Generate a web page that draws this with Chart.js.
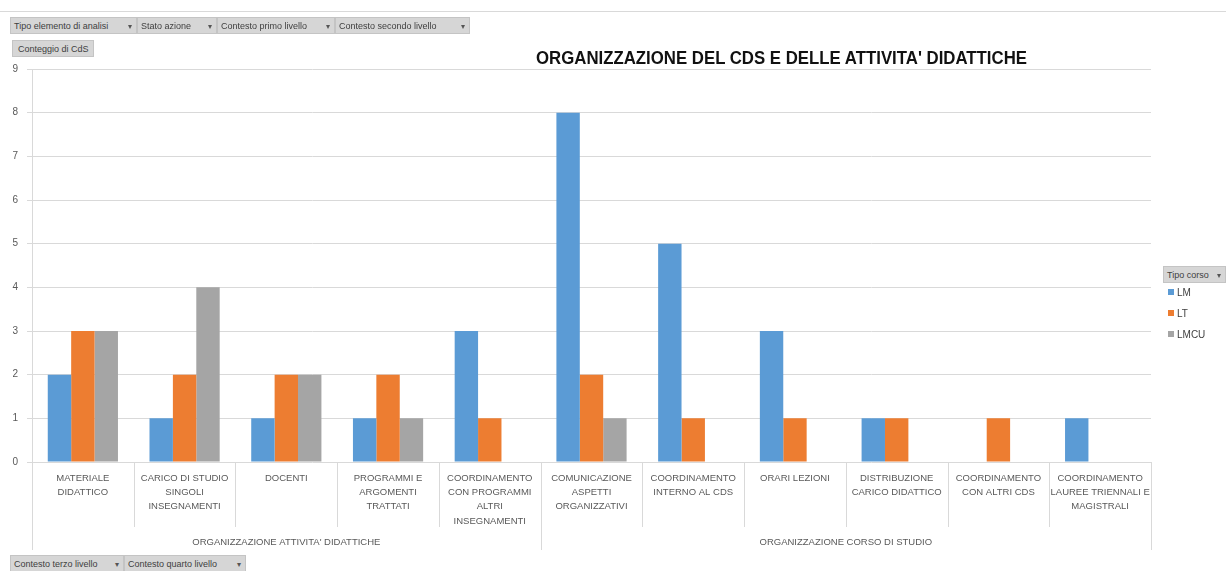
<!DOCTYPE html>
<html>
<head>
<meta charset="utf-8">
<script src="https://cdn.jsdelivr.net/npm/chart.js@4"></script>
<style>
  html, body { margin: 0; padding: 0; background: #fff; }
  body { width: 1226px; height: 571px; position: relative; overflow: hidden; font-family: "Liberation Sans", Arial, sans-serif; }
  #wrap { position: absolute; left: 0; top: 0; width: 1226px; height: 571px; }
  .topline { position: absolute; left: 0; top: 11px; width: 1226px; height: 1px; background: #d9d9d9; }
  .btn { position: absolute; height: 17px; line-height: 17px; background: #d6d6d6; border: 1px solid #c4c4c4; box-sizing: border-box;
         font-size: 9px; color: #404040; padding-left: 3px; white-space: nowrap; }
  .btn .ic { position: absolute; right: 4px; top: 0; font-size: 8px; color: #555; }
  #title { position: absolute; top: 48px; left: 536px; font-weight: bold; font-size: 18px; color: #111; white-space: nowrap; transform-origin: 0 0; }
  .leg { position: absolute; left: 1168px; font-size: 10px; color: #404040; height: 12px; line-height: 12px; }
  .leg i { display: inline-block; width: 6px; height: 6px; margin-right: 3px; vertical-align: 1px; }
</style>
</head>
<body>
<div id="wrap"><canvas id="chart" width="1226" height="571"></canvas></div>
<div class="topline"></div>

<div class="btn" style="left:10px;top:17px;width:127px">Tipo elemento di analisi<span class="ic">▾</span></div>
<div class="btn" style="left:137px;top:17px;width:80px">Stato azione<span class="ic">▾</span></div>
<div class="btn" style="left:217px;top:17px;width:118px">Contesto primo livello<span class="ic">▾</span></div>
<div class="btn" style="left:335px;top:17px;width:135px">Contesto secondo livello<span class="ic">▾</span></div>
<div class="btn" style="left:12px;top:40px;width:82px;padding-left:5px">Conteggio di CdS</div>
<div class="btn" style="left:10px;top:555px;width:114px">Contesto terzo livello<span class="ic">▾</span></div>
<div class="btn" style="left:124px;top:555px;width:122px">Contesto quarto livello<span class="ic">▾</span></div>

<div id="title">ORGANIZZAZIONE DEL CDS E DELLE ATTIVITA' DIDATTICHE</div>

<div class="btn" style="left:1163px;top:266px;width:63px">Tipo corso<span class="ic">▾</span></div>
<div id="legend"></div>

<script>
// etichette categorie (righe a capo come nel grafico originale)
var categoryLines = [
  ["MATERIALE", "DIDATTICO"],
  ["CARICO DI STUDIO", "SINGOLI", "INSEGNAMENTI"],
  ["DOCENTI"],
  ["PROGRAMMI E", "ARGOMENTI", "TRATTATI"],
  ["COORDINAMENTO", "CON PROGRAMMI", "ALTRI", "INSEGNAMENTI"],
  ["COMUNICAZIONE", "ASPETTI", "ORGANIZZATIVI"],
  ["COORDINAMENTO", "INTERNO AL CDS"],
  ["ORARI LEZIONI"],
  ["DISTRIBUZIONE", "CARICO DIDATTICO"],
  ["COORDINAMENTO", "CON ALTRI CDS"],
  ["COORDINAMENTO", "LAUREE TRIENNALI E", "MAGISTRALI"]
];

var groupNames = ["ORGANIZZAZIONE ATTIVITA' DIDATTICHE", "ORGANIZZAZIONE CORSO DI STUDIO"];
var groupSizes = [5, 6];

var seriesNames = ["LM", "LT", "LMCU"];
var seriesColors = ["#5b9bd5", "#ed7d31", "#a5a5a5"];

var lmValues   = [2, 1, 1, 1, 3, 8, 5, 3, 1, null, 1];
var ltValues   = [3, 2, 2, 2, 1, 2, 1, 1, 1, 1, null];
var lmcuValues = [3, 4, 2, 1, null, 1, null, null, null, null, null];

var yTicks = [0, 1, 2, 3, 4, 5, 6, 7, 8, 9];

// titolo: adatta la larghezza a quella del riferimento
var t = document.getElementById('title');
var tw = t.getBoundingClientRect().width;
t.style.transform = 'scaleX(' + (491 / tw) + ')';

// legenda
var legend = document.getElementById('legend');
var legTops = [287, 308, 329];
for (var i = 0; i < seriesNames.length; i++) {
  var d = document.createElement('div');
  d.className = 'leg';
  d.style.top = legTops[i] + 'px';
  d.innerHTML = '<i style="background:' + seriesColors[i] + '"></i>' + seriesNames[i];
  legend.appendChild(d);
}

// separatori e etichette dei gruppi sotto l'asse x
var groupAxis = {
  id: 'groupAxis',
  afterDraw: function (chart) {
    var c = chart.ctx;
    var xs = chart.scales.x;
    var area = chart.chartArea;
    var n = categoryLines.length;
    var bounds = [area.left];
    for (var i = 0; i < n - 1; i++) {
      bounds.push((xs.getPixelForValue(i) + xs.getPixelForValue(i + 1)) / 2);
    }
    bounds.push(area.right);

    var groupEdges = [0];
    var acc = 0;
    for (var g = 0; g < groupSizes.length; g++) { acc += groupSizes[g]; groupEdges.push(acc); }

    c.save();
    c.strokeStyle = '#d9d9d9';
    c.lineWidth = 1;
    for (var k = 0; k < bounds.length; k++) {
      var isGroup = groupEdges.indexOf(k) >= 0;
      var x = Math.round(bounds[k]) + 0.5;
      c.beginPath();
      c.moveTo(x, area.bottom);
      c.lineTo(x, isGroup ? area.bottom + 88 : area.bottom + 65);
      c.stroke();
    }
    c.fillStyle = '#595959';
    c.font = '9.5px "Liberation Sans", Arial, sans-serif';
    c.textAlign = 'center';
    c.textBaseline = 'middle';
    for (var g = 0; g < groupNames.length; g++) {
      var cx = (bounds[groupEdges[g]] + bounds[groupEdges[g + 1]]) / 2;
      c.fillText(groupNames[g], cx, area.bottom + 80);
    }
    c.restore();
  }
};

var datasets = [lmValues, ltValues, lmcuValues].map(function (vals, i) {
  return {
    label: seriesNames[i],
    data: vals,
    backgroundColor: seriesColors[i],
    borderWidth: 0,
    categoryPercentage: 0.69,
    barPercentage: 1.0
  };
});

new Chart(document.getElementById('chart'), {
  type: 'bar',
  data: { labels: categoryLines, datasets: datasets },
  plugins: [groupAxis],
  options: {
    responsive: false,
    animation: false,
    layout: { padding: { top: 69, right: 75, left: 0, bottom: 0 } },
    plugins: { legend: { display: false }, title: { display: false }, tooltip: { enabled: false } },
    scales: {
      x: {
        grid: { display: false },
        border: { display: false },
        ticks: {
          autoSkip: false, maxRotation: 0, minRotation: 0, padding: 1,
          color: '#595959',
          font: { family: '"Liberation Sans", Arial, sans-serif', size: 9.5, lineHeight: 1.5 }
        },
        afterFit: function (s) { s.height = 109; }
      },
      y: {
        min: 0, max: 9,
        afterBuildTicks: function (s) { s.ticks = yTicks.map(function (v) { return { value: v }; }); },
        grid: { color: '#d9d9d9', tickLength: 5 },
        border: { display: true, color: '#d9d9d9' },
        ticks: {
          padding: 9, color: '#595959',
          font: { family: '"Liberation Sans", Arial, sans-serif', size: 10 }
        },
        afterFit: function (s) { s.width = 32; }
      }
    }
  }
});
</script>
</body>
</html>
